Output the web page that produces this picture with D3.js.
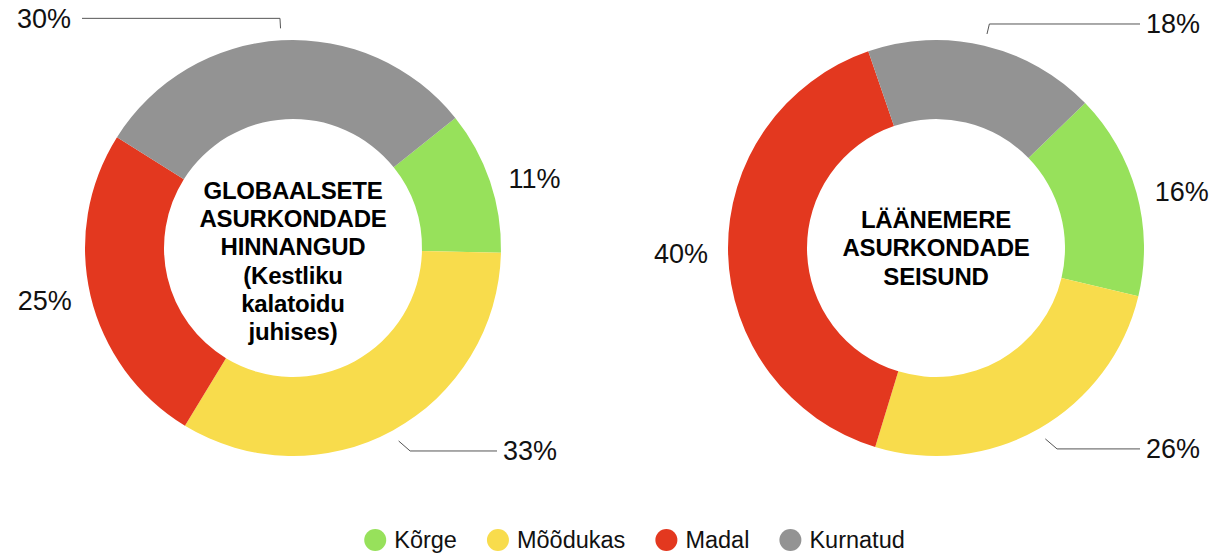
<!DOCTYPE html>
<html>
<head>
<meta charset="utf-8">
<script src="https://cdn.jsdelivr.net/npm/d3@7"></script>
<style>
  body { margin: 0; background: #fff; }
  svg { display: block; font-family: "Liberation Sans", Arial, Helvetica, sans-serif; }
</style>
</head>
<body>
<div id="chart"></div>
<script>
// andmed
const categories = ["Kõrge", "Mõõdukas", "Madal", "Kurnatud"];
const colors = ["#97e15b", "#f8dc4c", "#e3381f", "#939393"];
const globalValues = [11, 33, 25, 30];
const balticValues = [16, 26, 40, 18];
const globalTitle = ["GLOBAALSETE", "ASURKONDADE", "HINNANGUD", "(Kestliku", "kalatoidu", "juhises)"];
const balticTitle = ["LÄÄNEMERE", "ASURKONDADE", "SEISUND"];

const width = 1214, height = 553;
const outerR = 208, innerR = 129;

const svg = d3.select("#chart").append("svg")
    .attr("width", width)
    .attr("height", height);

const color = d3.scaleOrdinal().domain(categories).range(colors);

function drawDonut(cx, cy, values, title, startDeg, titleDy) {
    const g = svg.append("g").attr("transform", `translate(${cx},${cy})`);
    const start = startDeg * Math.PI / 180;
    const pie = d3.pie().sort(null).value(d => d.v)
        .startAngle(start).endAngle(start + 2 * Math.PI);
    const arcs = pie(values.map((v, i) => ({ v, c: categories[i] })));
    const arc = d3.arc().innerRadius(innerR).outerRadius(outerR);

    g.selectAll("path.slice")
        .data(arcs)
        .enter()
        .append("path")
        .attr("class", "slice")
        .attr("d", arc)
        .attr("fill", d => color(d.data.c));

    // protsendisildid
    arcs.forEach(d => {
        const a = (d.startAngle + d.endAngle) / 2;
        const s = Math.sin(a), c = Math.cos(a);
        const label = d.data.v + "%";
        if (Math.abs(c) > 0.8) {
            // viigujoonega silt
            const r1 = outerR + 12;
            const x1 = r1 * s, y1 = -r1 * c;
            const dy = c > 0 ? -10 : 10;
            const x2 = x1 + Math.abs(dy) * Math.abs(s / c) * Math.sign(s) + (c < 0 ? 6 * Math.sign(s) : 0);
            const y2 = y1 + dy;
            const dir = s < 0 ? -1 : 1;
            const x3 = dir < 0 ? -211 : 204;
            g.append("path")
                .attr("d", `M${x1},${y1}L${x2},${y2}L${x3},${y2}`)
                .attr("fill", "none")
                .attr("stroke", "#555")
                .attr("stroke-width", 1);
            g.append("text")
                .attr("x", x3 + (dir < 0 ? -11 : 6))
                .attr("y", y2)
                .attr("dy", "0.35em")
                .attr("text-anchor", dir < 0 ? "end" : "start")
                .attr("font-size", "27px")
                .attr("fill", "#111")
                .text(label);
        } else {
            g.append("text")
                .attr("x", 255 * s)
                .attr("y", -(outerR + 14) * c + 2)
                .attr("dy", "0.35em")
                .attr("text-anchor", "middle")
                .attr("font-size", "27px")
                .attr("fill", "#111")
                .text(label);
        }
    });

    // keskmine pealkiri
    const lh = 28.3;
    const t = g.append("text")
        .attr("text-anchor", "middle")
        .attr("font-size", "24px")
        .attr("font-weight", "bold")
        .attr("letter-spacing", "-0.2px")
        .attr("fill", "#000");
    title.forEach((line, i) => {
        t.append("tspan")
            .attr("x", 0)
            .attr("y", titleDy + (i - (title.length - 1) / 2) * lh)
            .attr("dy", "0.35em")
            .text(line);
    });
}

drawDonut(293, 248, globalValues, globalTitle, 51.3, 13);
drawDonut(936, 248, balticValues, balticTitle, 45.8, 0);

// legend
const legend = svg.append("g");
let lx = 0;
const items = [];
categories.forEach(c => {
    const item = legend.append("g");
    item.append("circle").attr("cx", 11).attr("cy", 0).attr("r", 11).attr("fill", color(c));
    const tx = item.append("text")
        .attr("x", 30)
        .attr("y", 0)
        .attr("dy", "0.35em")
        .attr("font-size", "23.5px")
        .attr("fill", "#111")
        .text(c);
    const w = 30 + tx.node().getComputedTextLength();
    items.push({ item, x: lx });
    lx += w + 30;
});
const totalW = lx - 30;
items.forEach(d => d.item.attr("transform", `translate(${d.x},0)`));
legend.attr("transform", `translate(${(367 + 902) / 2 - totalW / 2},540)`);
</script>
</body>
</html>
